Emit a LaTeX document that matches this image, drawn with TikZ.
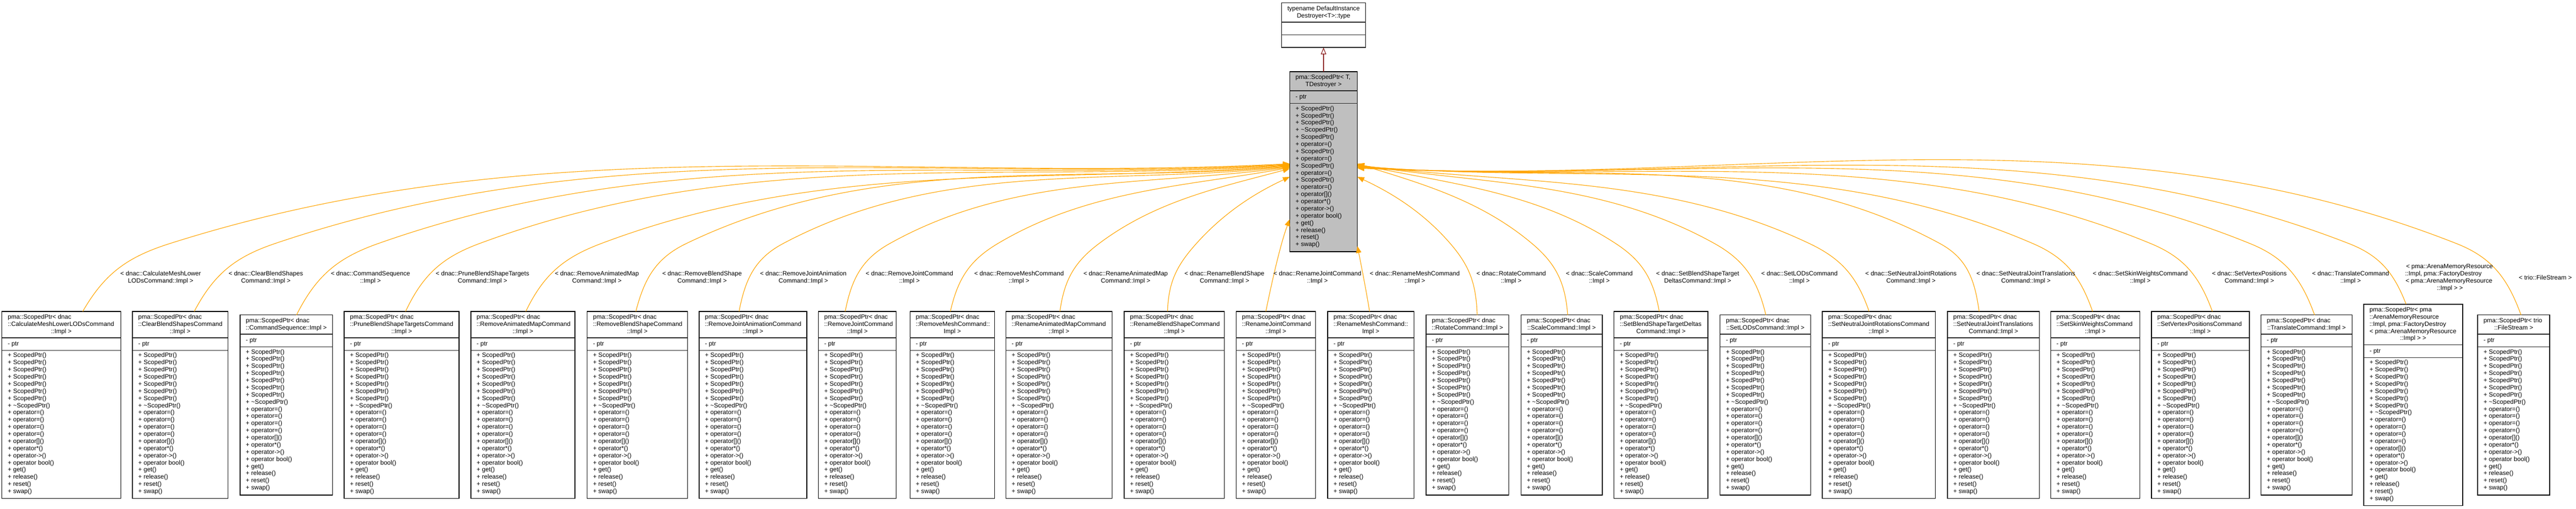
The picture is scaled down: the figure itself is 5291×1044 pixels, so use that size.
\documentclass[tikz,border=0pt]{standalone}
\usepackage{fontspec}
\setmainfont{Liberation Sans}
\usetikzlibrary{arrows.meta}
\definecolor{edgeorange}{HTML}{FFA500}
\definecolor{inhred}{HTML}{8B1A1A}
\definecolor{ctrgray}{HTML}{BFBFBF}
\tikzset{
  txt/.style={font=\fontsize{12.8}{14.68}\selectfont, inner sep=0pt, outer sep=0pt},
  lbl/.style={txt, align=center},
  classnode/.style={draw=black, line width=1.5pt, inner sep=0pt, outer sep=0pt},
  sepline/.style={draw=black!85, line width=1.5pt},
  iedge/.style={draw=edgeorange, line width=1.2pt, -{Triangle[length=14pt,width=11pt]}},
  inhedge/.style={draw=inhred, line width=1.2pt, -{Triangle[length=14pt,width=11pt,fill=white]}},
}
\def\memB{+ ScopedPtr(),+ ScopedPtr(),+ ScopedPtr(),+ ScopedPtr(),+ ScopedPtr(),+ ScopedPtr(),+ ScopedPtr(),+ \textasciitilde ScopedPtr(),+ operator=(),+ operator=(),+ operator=(),+ operator=(),+ operator[](),+ operator*(),+ operator->(),+ operator bool(),+ get(),+ release(),+ reset(),+ swap()}
\def\memC{+ ScopedPtr(),+ ScopedPtr(),+ ScopedPtr(),+ \textasciitilde ScopedPtr(),+ ScopedPtr(),+ operator=(),+ ScopedPtr(),+ operator=(),+ ScopedPtr(),+ operator=(),+ ScopedPtr(),+ operator=(),+ operator[](),+ operator*(),+ operator->(),+ operator bool(),+ get(),+ release(),+ reset(),+ swap()}
% #1 name #2 fill #3 left #4 right #5 top #6 header lines #7 left-aligned lines #8 last (centred) line #9 member list
\newcommand\classbox[9]{%
  \pgfmathsetmacro\cbHB{#5+10+#6*14.68}%
  \pgfmathsetmacro\cbPB{\cbHB+26}%
  \pgfmathsetmacro\cbBB{\cbPB+304}%
  \pgfmathsetmacro\cbW{#4-#3}%
  \pgfmathsetmacro\cbH{\cbBB-#5}%
  \pgfmathsetmacro\cbCX{(#3+#4)/2}%
  \expandafter\xdef\csname cx#1\endcsname{\cbCX}%
  \expandafter\xdef\csname top#1\endcsname{#5}%
  \node[classnode, fill=#2, minimum width=\cbW pt, minimum height=\cbH pt, anchor=north west] (#1) at (#3,-#5) {};
  \draw[sepline] (#3,-\cbHB) -- (#4,-\cbHB) (#3,-\cbPB) -- (#4,-\cbPB);
  \foreach \t [count=\i] in {#7} {\node[txt, anchor=base west] (#1-h\i) at ({#3+12},{-(#5+15.3+(\i-1)*14.68)}) {\t};}
  \node[txt, anchor=base] (#1-hl) at ({\cbCX},{-(#5+15.3+(#6-1)*14.68)}) {#8};
  \node[txt, anchor=base west] (#1-p) at ({#3+12},{-(\cbHB+16.3)}) {- ptr};
  \foreach \t [count=\i] in #9 {\node[txt, anchor=base west] (#1-m\i) at ({#3+12},{-(\cbPB+14.3+(\i-1)*14.68)}) {\t};}
}
% #1 box #2 xb #3 x at y=500 #4 xe #5 ye #6 sign #7 anchor
\newcommand\tedge[7]{%
  \edef\eYb{\csname top#1\endcsname}%
  \edef\eCX{\csname cx#1\endcsname}%
  \pgfmathsetmacro\eDxa{abs(#3-#2)}%
  \pgfmathsetmacro\eDya{\eYb-500}%
  \pgfmathsetmacro\eAa{atan2(\eDya,\eDxa)}%
  \pgfmathsetmacro\eDxb{abs(#4-#3)}%
  \pgfmathsetmacro\eDyb{500-#5}%
  \pgfmathsetmacro\eAb{atan2(\eDyb,\eDxb)}%
  \pgfmathsetmacro\eLa{0.4*veclen(\eDxa,\eDya)}%
  \pgfmathsetmacro\eLb{0.35*veclen(\eDxb,\eDyb)}%
  \pgfmathsetmacro\eTs{min(\eAa+22,88)}%
  \pgfmathsetmacro\eTk{0.4*\eAa+0.6*\eAb}%
  \pgfmathsetmacro\eTe{0.7*\eAb}%
  \pgfmathsetmacro\eAx{(#6)*\eLa*cos(\eTs)}%
  \pgfmathsetmacro\eAy{\eLa*sin(\eTs)}%
  \pgfmathsetmacro\eBx{0-(#6)*\eLa*cos(\eTk)}%
  \pgfmathsetmacro\eBy{0-\eLa*sin(\eTk)}%
  \pgfmathsetmacro\eCx{(#6)*\eLb*cos(\eTk)}%
  \pgfmathsetmacro\eCy{\eLb*sin(\eTk)}%
  \pgfmathsetmacro\eDx{0-(#6)*\eLb*cos(\eTe)}%
  \pgfmathsetmacro\eDy{0-\eLb*sin(\eTe)}%
  \pgfmathsetmacro\eSx{#2-\eCX}%
  \pgfmathsetmacro\eSy{331.7-#5}%
  \draw[iedge] ([xshift=\eSx pt]#1.north) .. controls +(\eAx,\eAy) and +(\eBx,\eBy) .. (#3,-500) .. controls +(\eCx,\eCy) and +(\eDx,\eDy) .. ([yshift=\eSy pt]ctr.#7);
}
\newcommand\ledge[4]{\tedge{#1}{#2}{#3}{2649}{#4}{1}{west}}
\newcommand\redge[4]{\tedge{#1}{#2}{#3}{2788}{#4}{-1}{east}}
\begin{document}
\begin{tikzpicture}[x=1pt,y=1pt]
\useasboundingbox (0,0) rectangle (5291,-1044);
\fill[white] (0,0) rectangle (5291,-1044);

% template base
\node[classnode, fill=white, minimum width=173pt, minimum height=91.4pt, anchor=north west] (tmpl) at (2632,-6) {};
\draw[sepline] (2632,-45.4) -- (2805,-45.4) (2632,-71.4) -- (2805,-71.4);
\node[txt, anchor=base] (tmpl-h1) at (2718.5,-21.3) {typename DefaultInstance};
\node[txt, anchor=base] (tmpl-h2) at (2718.5,-36) {Destroyer<T>::type};

% central template class
\classbox{ctr}{ctrgray}{2649}{2788}{147}{2}{{pma::ScopedPtr< T,}}{TDestroyer >}{\memC}
\draw[inhedge] (ctr.north) -- (tmpl.south);

% instantiations
\classbox{b1}{white}{4}{248}{638.98}{3}{{pma::ScopedPtr< dnac},{::CalculateMeshLowerLODsCommand}}{::Impl >}{\memB}
\classbox{b2}{white}{272}{468}{638.98}{3}{{pma::ScopedPtr< dnac},{::ClearBlendShapesCommand}}{::Impl >}{\memB}
\classbox{b3}{white}{493}{683}{646.32}{2}{{pma::ScopedPtr< dnac}}{::CommandSequence::Impl >}{\memB}
\classbox{b4}{white}{707}{943}{638.98}{3}{{pma::ScopedPtr< dnac},{::PruneBlendShapeTargetsCommand}}{::Impl >}{\memB}
\classbox{b5}{white}{967}{1181}{638.98}{3}{{pma::ScopedPtr< dnac},{::RemoveAnimatedMapCommand}}{::Impl >}{\memB}
\classbox{b6}{white}{1206}{1412}{638.98}{3}{{pma::ScopedPtr< dnac},{::RemoveBlendShapeCommand}}{::Impl >}{\memB}
\classbox{b7}{white}{1436}{1657}{638.98}{3}{{pma::ScopedPtr< dnac},{::RemoveJointAnimationCommand}}{::Impl >}{\memB}
\classbox{b8}{white}{1681}{1841}{638.98}{3}{{pma::ScopedPtr< dnac},{::RemoveJointCommand}}{::Impl >}{\memB}
\classbox{b9}{white}{1869}{2043}{638.98}{3}{{pma::ScopedPtr< dnac},{::RemoveMeshCommand::}}{Impl >}{\memB}
\classbox{b10}{white}{2066}{2284}{638.98}{3}{{pma::ScopedPtr< dnac},{::RenameAnimatedMapCommand}}{::Impl >}{\memB}
\classbox{b11}{white}{2309}{2515}{638.98}{3}{{pma::ScopedPtr< dnac},{::RenameBlendShapeCommand}}{::Impl >}{\memB}
\classbox{b12}{white}{2539}{2702}{638.98}{3}{{pma::ScopedPtr< dnac},{::RenameJointCommand}}{::Impl >}{\memB}
\classbox{b13}{white}{2727}{2904}{638.98}{3}{{pma::ScopedPtr< dnac},{::RenameMeshCommand::}}{Impl >}{\memB}
\classbox{b14}{white}{2929}{3099}{646.32}{2}{{pma::ScopedPtr< dnac}}{::RotateCommand::Impl >}{\memB}
\classbox{b15}{white}{3124}{3291}{646.32}{2}{{pma::ScopedPtr< dnac}}{::ScaleCommand::Impl >}{\memB}
\classbox{b16}{white}{3315}{3508}{638.98}{3}{{pma::ScopedPtr< dnac},{::SetBlendShapeTargetDeltas}}{Command::Impl >}{\memB}
\classbox{b17}{white}{3533}{3719}{646.32}{2}{{pma::ScopedPtr< dnac}}{::SetLODsCommand::Impl >}{\memB}
\classbox{b18}{white}{3743}{3975}{638.98}{3}{{pma::ScopedPtr< dnac},{::SetNeutralJointRotationsCommand}}{::Impl >}{\memB}
\classbox{b19}{white}{4000}{4189}{638.98}{3}{{pma::ScopedPtr< dnac},{::SetNeutralJointTranslations}}{Command::Impl >}{\memB}
\classbox{b20}{white}{4212}{4395}{638.98}{3}{{pma::ScopedPtr< dnac},{::SetSkinWeightsCommand}}{::Impl >}{\memB}
\classbox{b21}{white}{4419}{4620}{638.98}{3}{{pma::ScopedPtr< dnac},{::SetVertexPositionsCommand}}{::Impl >}{\memB}
\classbox{b22}{white}{4644}{4831}{646.32}{2}{{pma::ScopedPtr< dnac}}{::TranslateCommand::Impl >}{\memB}
\classbox{b23}{white}{4855}{5058}{624.30}{5}{{pma::ScopedPtr< pma},{::ArenaMemoryResource},{::Impl, pma::FactoryDestroy},{< pma::ArenaMemoryResource}}{::Impl > >}{\memB}
\classbox{b24}{white}{5089}{5237}{646.32}{2}{{pma::ScopedPtr< trio}}{::FileStream >}{\memB}

% template instance edges
\ledge{b1}{170}{348}{336}
\ledge{b2}{399}{564}{337}
\ledge{b3}{609}{776}{338}
\ledge{b4}{833}{984}{339}
\ledge{b5}{1080}{1234}{340}
\ledge{b6}{1306}{1409}{341}
\ledge{b7}{1518}{1608}{342}
\ledge{b8}{1736}{1827}{343}
\ledge{b9}{1952}{2049}{344}
\ledge{b10}{2177}{2257}{346}
\ledge{b11}{2398}{2457}{363}
\draw[iedge] ([xshift=-20.5pt]b12.north) .. controls +(12,59) and +(-19,-50) .. ([yshift=-118.3pt]ctr.west);
\draw[iedge] ([xshift=-2.5pt]b13.north) .. controls +(-8,49) and +(7,-35) .. ([yshift=-173.3pt]ctr.east);
\redge{b14}{3034}{2979}{363}
\redge{b15}{3220}{3147}{336}
\redge{b16}{3408}{3319}{337}
\redge{b17}{3627}{3522}{338}
\redge{b18}{3839}{3717}{339}
\redge{b19}{4065}{3985}{340}
\redge{b20}{4298}{4176}{341}
\redge{b21}{4544}{4418}{342}
\redge{b22}{4754}{4622}{343}
\redge{b23}{4942}{4825}{344}
\redge{b24}{5178}{5046}{345}

% edge labels
\node[lbl] (l1) at (330,-569.5) {< dnac::CalculateMeshLower\\LODsCommand::Impl >};
\node[lbl] (l2) at (546,-569.5) {< dnac::ClearBlendShapes\\Command::Impl >};
\node[lbl] (l3) at (761,-569.5) {< dnac::CommandSequence\\::Impl >};
\node[lbl] (l4) at (991,-569.5) {< dnac::PruneBlendShapeTargets\\Command::Impl >};
\node[lbl] (l5) at (1226,-569.5) {< dnac::RemoveAnimatedMap\\Command::Impl >};
\node[lbl] (l6) at (1442,-569.5) {< dnac::RemoveBlendShape\\Command::Impl >};
\node[lbl] (l7) at (1650,-569.5) {< dnac::RemoveJointAnimation\\Command::Impl >};
\node[lbl] (l8) at (1868,-569.5) {< dnac::RemoveJointCommand\\::Impl >};
\node[lbl] (l9) at (2093,-569.5) {< dnac::RemoveMeshCommand\\::Impl >};
\node[lbl] (l10) at (2312,-569.5) {< dnac::RenameAnimatedMap\\Command::Impl >};
\node[lbl] (l11) at (2515,-569.5) {< dnac::RenameBlendShape\\Command::Impl >};
\node[lbl] (l12) at (2706,-569.5) {< dnac::RenameJointCommand\\::Impl >};
\node[lbl] (l13) at (2906,-569.5) {< dnac::RenameMeshCommand\\::Impl >};
\node[lbl] (l14) at (3104,-569.5) {< dnac::RotateCommand\\::Impl >};
\node[lbl] (l15) at (3285,-569.5) {< dnac::ScaleCommand\\::Impl >};
\node[lbl] (l16) at (3487,-569.5) {< dnac::SetBlendShapeTarget\\DeltasCommand::Impl >};
\node[lbl] (l17) at (3696,-569.5) {< dnac::SetLODsCommand\\::Impl >};
\node[lbl] (l18) at (3925,-569.5) {< dnac::SetNeutralJointRotations\\Command::Impl >};
\node[lbl] (l19) at (4161,-569.5) {< dnac::SetNeutralJointTranslations\\Command::Impl >};
\node[lbl] (l20) at (4396,-569.5) {< dnac::SetSkinWeightsCommand\\::Impl >};
\node[lbl] (l21) at (4620,-569.5) {< dnac::SetVertexPositions\\Command::Impl >};
\node[lbl] (l22) at (4828,-569.5) {< dnac::TranslateCommand\\::Impl >};
\node[txt, anchor=base west] (l23a) at (4942,-551) {< pma::ArenaMemoryResource};
\node[txt, anchor=base west] (l23b) at (4940,-566) {::Impl, pma::FactoryDestroy};
\node[txt, anchor=base west] (l23c) at (4941,-580) {< pma::ArenaMemoryResource};
\node[txt, anchor=base] (l23d) at (5032,-595) {::Impl > >};
\node[txt] (l24) at (5228,-570) {< trio::FileStream >};
\end{tikzpicture}
\end{document}
